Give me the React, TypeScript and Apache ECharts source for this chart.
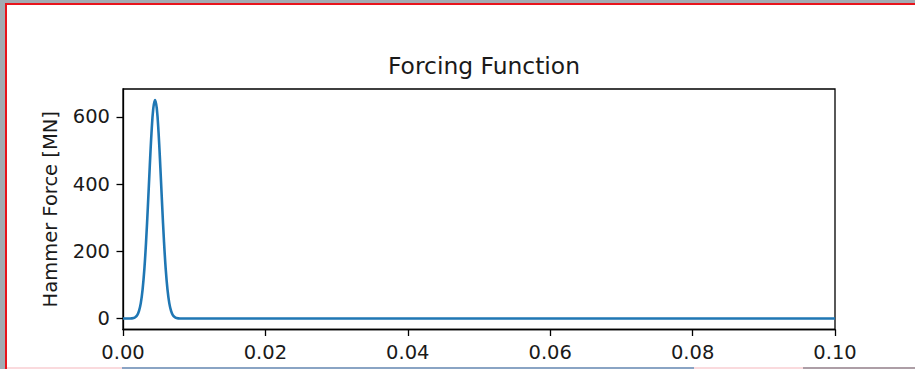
import React, { useEffect, useRef } from "react";
import * as echarts from "echarts";

const titleText = "Forcing Function";
const yAxisName = "Hammer Force [MN]";
const timeValues = [
  0, 0.001, 0.0015, 0.00175, 0.002, 0.00225, 0.0025, 0.00275, 0.003, 0.00325,
  0.0035, 0.00375, 0.004, 0.00425, 0.0045, 0.00475, 0.005, 0.00525, 0.0055,
  0.00575, 0.006, 0.00625, 0.0065, 0.00675, 0.007, 0.00725, 0.0075, 0.008, 0.1,
];
const forceValues = [
  0, 0.2, 1.7, 4.4, 10.5, 23, 46, 86, 147, 232, 336, 448, 551, 624, 650, 624,
  551, 448, 336, 232, 147, 86, 46, 23, 10.5, 4.4, 1.7, 0.2, 0,
];
const yTickValues = [0, 200, 400, 600];
const xMin = 0;
const xMax = 0.1;
const xStep = 0.02;
const yMin = -32.5;
const yMax = 682.5;

export default function App() {
  const ref = useRef<HTMLDivElement>(null);
  useEffect(() => {
    if (!ref.current) return;
    const chart = echarts.init(ref.current, undefined, { renderer: "svg" });
    const font = "DejaVu Sans";
    const textColor = "#1a1a1a";
    chart.setOption({
      animation: false,
      backgroundColor: "#ffffff",
      title: {
        text: titleText,
        left: 479,
        top: 49,
        textAlign: "center",
        textStyle: { fontFamily: font, fontSize: 23.4, fontWeight: "normal", color: textColor },
      },
      grid: {
        left: 123,
        right: 80,
        top: 89,
        bottom: 39.5,
        show: true,
        borderColor: "#000",
        borderWidth: 1.3,
        backgroundColor: "transparent",
      },
      xAxis: {
        type: "value",
        min: xMin,
        max: xMax,
        interval: xStep,
        axisLine: { show: true, onZero: false, lineStyle: { color: "#000", width: 1.3 } },
        axisTick: { show: true, length: 6.5, lineStyle: { color: "#000", width: 1.3 } },
        splitLine: { show: false },
        axisLabel: {
          fontFamily: font,
          fontSize: 19.5,
          color: textColor,
          margin: 13,
          formatter: (v: number) => v.toFixed(2),
        },
      },
      yAxis: {
        type: "value",
        min: yMin,
        max: yMax,
        name: yAxisName,
        nameLocation: "middle",
        nameGap: 63,
        nameTextStyle: { fontFamily: font, fontSize: 19.5, color: textColor },
        axisLine: { show: true, lineStyle: { color: "#000", width: 1.3 } },
        axisTick: {
          show: true,
          length: 6.5,
          customValues: yTickValues,
          lineStyle: { color: "#000", width: 1.3 },
        },
        splitLine: { show: false },
        axisLabel: {
          fontFamily: font,
          fontSize: 19.5,
          color: textColor,
          margin: 13,
          customValues: yTickValues,
        },
      },
      series: [
        {
          type: "line",
          data: timeValues.map((t, i) => [t, forceValues[i]]),
          smooth: 0.4,
          showSymbol: false,
          lineStyle: { color: "#1f77b4", width: 2.6 },
        },
      ],
      graphic: [
        { type: "rect", shape: { x: 0, y: 0, width: 915, height: 3 }, style: { fill: "#a3abb2" }, silent: true },
        { type: "rect", shape: { x: 0, y: 0, width: 5, height: 369 }, style: { fill: "#a3abb2" }, silent: true },
        { type: "rect", shape: { x: 5, y: 3, width: 910, height: 2 }, style: { fill: "#e8141c" }, silent: true },
        { type: "rect", shape: { x: 5, y: 3, width: 2, height: 366 }, style: { fill: "#e8141c" }, silent: true },
        { type: "rect", shape: { x: 7, y: 367, width: 115, height: 2 }, style: { fill: "#fadadd" }, silent: true },
        { type: "rect", shape: { x: 122, y: 367, width: 572, height: 2 }, style: { fill: "#8aa4c4" }, silent: true },
        { type: "rect", shape: { x: 694, y: 367, width: 109, height: 2 }, style: { fill: "#fadadd" }, silent: true },
        { type: "rect", shape: { x: 803, y: 367, width: 112, height: 2 }, style: { fill: "#ad9ea6" }, silent: true },
      ],
    });
    return () => chart.dispose();
  }, []);
  return (
    <div
      ref={ref}
      style={{ position: "absolute", left: 0, top: 0, width: 915, height: 369 }}
    />
  );
}
